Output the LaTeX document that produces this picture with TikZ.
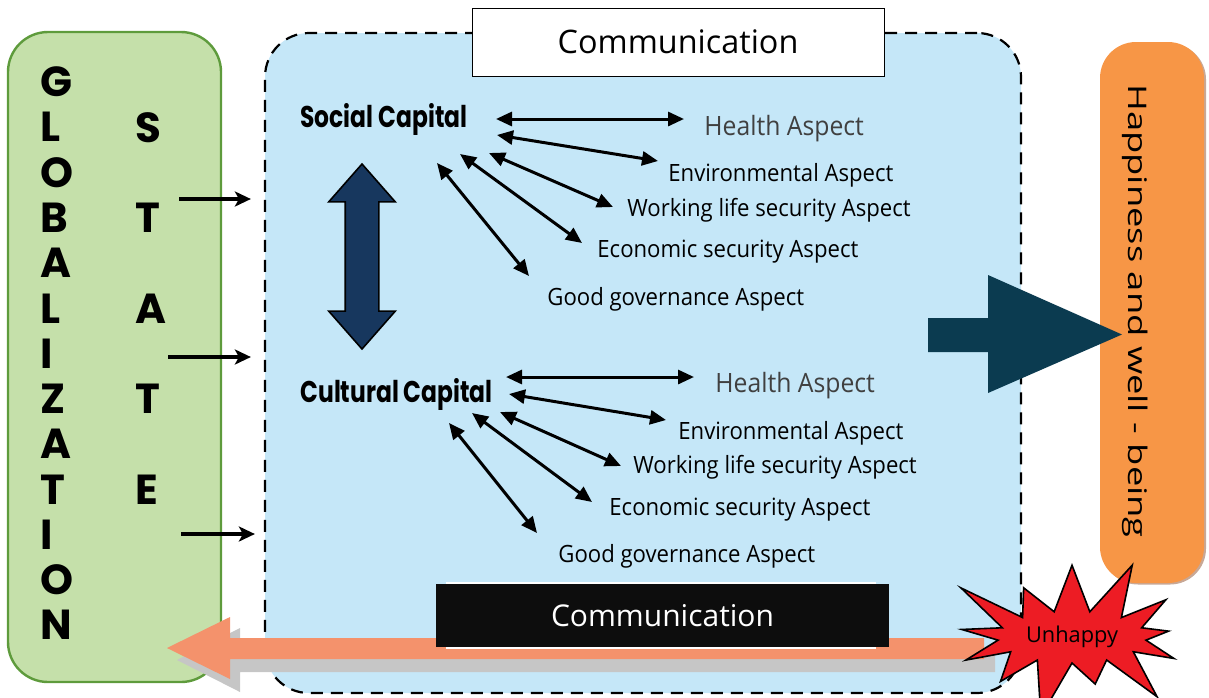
\documentclass[tikz,border=0pt]{standalone}
\usepackage{fontspec}
\setmainfont{Open Sans}
\newfontfamily\capfont{Poppins}
\newfontfamily\capnarrow[FakeStretch=0.78]{Poppins}
\newfontfamily\aspfont[FakeStretch=0.93]{Open Sans}
\newfontfamily\widefont[FakeStretch=1.42]{Open Sans}
\usetikzlibrary{arrows.meta,shapes.arrows,shapes.symbols}
\definecolor{leaf}{HTML}{C5E0AA}
\definecolor{leafline}{HTML}{5E9B3C}
\definecolor{sky}{HTML}{C5E7F8}
\definecolor{navy}{HTML}{17375E}
\definecolor{deepteal}{HTML}{0B3B50}
\definecolor{peach}{HTML}{F79646}
\definecolor{salmon}{HTML}{F4926C}
\definecolor{alarm}{HTML}{ED1C24}

\tikzset{
  letter/.style={anchor=west, inner sep=0, font=\capfont\bfseries\fontsize{21}{21}\selectfont},
  capital/.style={anchor=base west, inner sep=0, font=\capnarrow\bfseries\fontsize{15}{15}\selectfont},
  aspect/.style={anchor=base west, inner sep=0, font=\aspfont\fontsize{11.9}{12}\selectfont},
  link/.style={{Triangle[length=8pt,width=7pt]}-{Triangle[length=8pt,width=7pt]}, line width=1.5pt},
  entry/.style={-{Stealth[length=8pt,width=7.5pt,inset=2pt]}, line width=1.6pt},
}

\begin{document}
\begin{tikzpicture}[x=0.5pt, y=-0.5pt]
\useasboundingbox (0,0) rectangle (1209,697);
% boxes
\node (cap) [draw, dashed, dash pattern=on 6pt off 4pt, line width=1.1pt, fill=sky, rounded corners=22pt,
  minimum width=378pt, minimum height=330pt] at (643,363) {};
\node (topcomm) [draw, fill=white, line width=0.5pt, minimum width=206pt, minimum height=34pt,
  font=\fontsize{16.2}{16}\selectfont] at (678,42) {Communication};
\node (glob) [draw=leafline, line width=1.2pt, fill=leaf, rounded corners=20pt,
  minimum width=106.5pt, minimum height=325pt] at (114.5,357) {};

% GLOBALIZATION / STATE
\foreach \c [count=\i] in {G,L,O,B,A,L,I,Z,A,T,I,O,N}
  \node (g\i) [letter] at (40,{82+45.25*(\i-1)}) {\c};
\foreach \c/\i in {S/2,T/4,A/6,T/8,E/10}
  \node (s\i) [letter] at (135,{82+45.25*(\i-1)}) {\c};

\draw [entry] ([shift={(-43,-158)}]glob.east) -- ([shift={(-13,-164)}]cap.west);
\draw [entry] ([shift={(-54,0)}]glob.east) -- ([shift={(-13,-6)}]cap.west);
\draw [entry] ([shift={(-41,177)}]glob.east) -- ([shift={(-9,171)}]cap.west);

% social capital
\node (soc) [capital] at (300,127) {Social Capital};
\node (shealth) [aspect, text=black!75] at (704,135) {\fontsize{13.3}{13}\selectfont Health Aspect};
\node (senv)  [aspect] at (668,181) {Environmental Aspect};
\node (swork) [aspect] at (627,216) {Working life security Aspect};
\node (secon) [aspect] at (597,257) {Economic security Aspect};
\node (sgood) [aspect] at (547,305) {Good governance Aspect};
\draw [link] ([shift={(196,-8)}]soc.base west) -- ([shift={(-20,-16)}]shealth.base west);
\draw [link] ([shift={(197,8)}]soc.base west) -- ([shift={(-10,-20)}]senv.base west);
\draw [link] ([shift={(189,26)}]soc.base west) -- ([shift={(-14,-9)}]swork.base west);
\draw [link] ([shift={(160,27)}]soc.base west) -- ([shift={(-15,-14)}]secon.base west);
\draw [link] ([shift={(137,36)}]soc.base west) -- ([shift={(-18,-29)}]sgood.base west);

% cultural capital
\node (cul) [capital] at (300,402) {Cultural Capital};
\node (chealth) [aspect, text=black!75] at (715,392) {\fontsize{13.3}{13}\selectfont Health Aspect};
\node (cenv)  [aspect] at (678,439) {Environmental Aspect};
\node (cwork) [aspect] at (633,473) {Working life security Aspect};
\node (cecon) [aspect] at (609,515) {Economic security Aspect};
\node (cgood) [aspect] at (558,562) {Good governance Aspect};
\draw [link] ([shift={(206,-25)}]cul.base west) -- ([shift={(-21,-15)}]chealth.base west);
\draw [link] ([shift={(209,-8)}]cul.base west) -- ([shift={(-12,-19)}]cenv.base west);
\draw [link] ([shift={(200,10)}]cul.base west) -- ([shift={(-12,-7)}]cwork.base west);
\draw [link] ([shift={(172,11)}]cul.base west) -- ([shift={(-17,-13)}]cecon.base west);
\draw [link] ([shift={(149,21)}]cul.base west) -- ([shift={(-21,-29)}]cgood.base west);

\node (both) [double arrow, rotate=90, draw, line width=0.8pt, fill=navy, inner xsep=0, inner ysep=8pt,
  double arrow head extend=8.25pt, double arrow tip angle=82.6, minimum height=92.5pt] at (362,256.5) {};

% happiness
\node (happyshade) [fill={rgb,255:red,200;green,168;blue,150}, rounded corners=18pt,
  minimum width=52pt, minimum height=270.5pt] at (1154,314) {};
\node (happy) [fill=peach, rounded corners=18pt, minimum width=52pt, minimum height=270.5pt] at (1152,312.5) {};
\node (happytext) [rotate=-90, inner sep=0, font=\widefont\fontsize{12.8}{13}\selectfont] at (1135,311) {Happiness and well - being};
% big arrow into happiness
\fill [deepteal] (928,318) -- (988,318) -- (988,275) -- (1122,334.5) -- (988,393) -- (988,352) -- (928,352) -- cycle;

% back to globalization
\fill [gray!45] (177,660) -- (240,628) -- (240,650) -- (995,650) -- (995,672) -- (240,672) -- (240,692) -- cycle;
\fill [salmon] (167,648) -- (230,617) -- (230,638) -- (984,638) -- (984,659) -- (230,659) -- (230,679) -- cycle;
\node (botstrip) [fill=white, minimum width=215pt, minimum height=33.5pt] at (661,615.5) {};
\node (botcomm) [fill=black!95, text=white, minimum width=226.5pt, minimum height=31.5pt,
  font=\fontsize{15}{15}\selectfont] at (662.5,615.5) {Communication};

\node (sad) [starburst, draw, line width=0.8pt, fill=alarm, minimum width=130pt, minimum height=90pt,
  starburst points=13, starburst point height=32pt, font=\fontsize{10.9}{11}\selectfont] at (1072,637) {Unhappy};
\end{tikzpicture}
\end{document}
